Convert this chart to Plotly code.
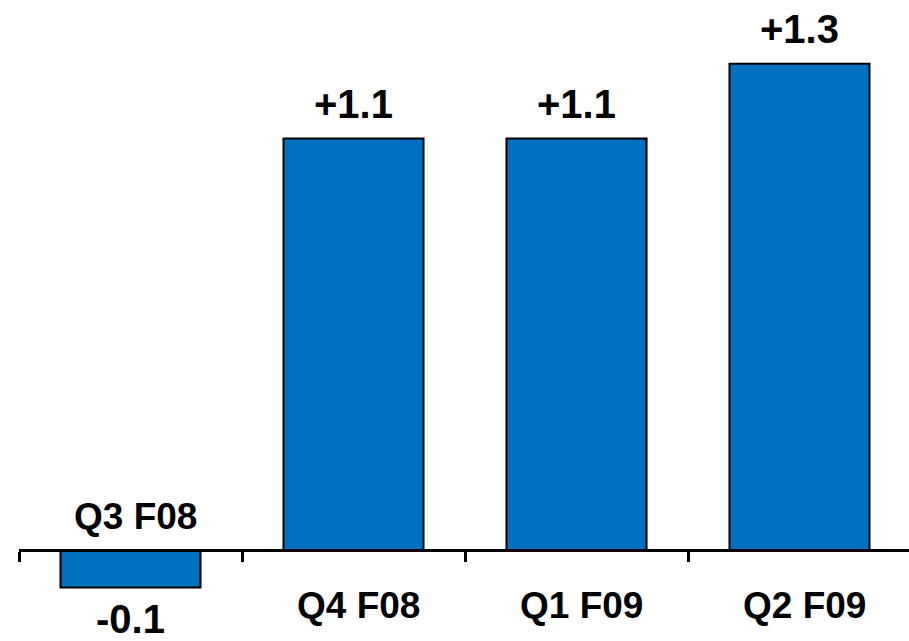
import plotly.graph_objects as go

# Quarterly change figures
quarters = ["Q3 F08", "Q4 F08", "Q1 F09", "Q2 F09"]
changes = [-0.1, 1.1, 1.1, 1.3]
change_labels = ["-0.1", "+1.1", "+1.1", "+1.3"]

BAR_BLUE = "#0070C0"
y_min, y_max = -0.2433, 1.4706
x_min, x_max = -0.5, 3.491

xs = list(range(len(quarters)))

fig = go.Figure()
fig.add_trace(go.Bar(
    x=xs, y=changes, width=0.628,
    marker=dict(color=BAR_BLUE, line=dict(color="black", width=2)),
    hoverinfo="skip",
))

annotations = []
value_font = dict(family="Liberation Sans, Arial", size=40, color="black")
cat_font = dict(family="Liberation Sans, Arial", size=37, color="black")
for i, (q, v, lab) in enumerate(zip(quarters, changes, change_labels)):
    pos = v >= 0
    annotations.append(dict(
        x=i, y=v, xref="x", yref="y", text=f"<b>{lab}</b>", showarrow=False,
        yanchor="bottom" if pos else "top", yshift=11 if pos else -8,
        font=value_font,
    ))
    annotations.append(dict(
        x=i, y=0, xref="x", yref="y", text=f"<b>{q}</b>", showarrow=False,
        yanchor="top" if pos else "bottom", yshift=-33 if pos else 11,
        xshift=5,
        font=cat_font,
    ))

zero_pos = (0 - y_min) / (y_max - y_min)

fig.update_layout(
    width=909, height=641,
    margin=dict(l=0, r=0, t=0, b=0),
    paper_bgcolor="white", plot_bgcolor="white",
    showlegend=False,
    annotations=annotations,
    xaxis=dict(
        domain=[19 / 909, 1], range=[x_min, x_max],
        anchor="free", position=zero_pos,
        showline=True, linecolor="black", linewidth=3,
        ticks="outside", ticklen=10, tickwidth=3, tickcolor="black",
        tickvals=[i - 0.5 for i in range(len(quarters))],
        showticklabels=False, showgrid=False, zeroline=False,
    ),
    yaxis=dict(
        range=[y_min, y_max], domain=[0, 1],
        visible=False, showgrid=False, zeroline=False,
    ),
)

fig.write_html("out.html")
